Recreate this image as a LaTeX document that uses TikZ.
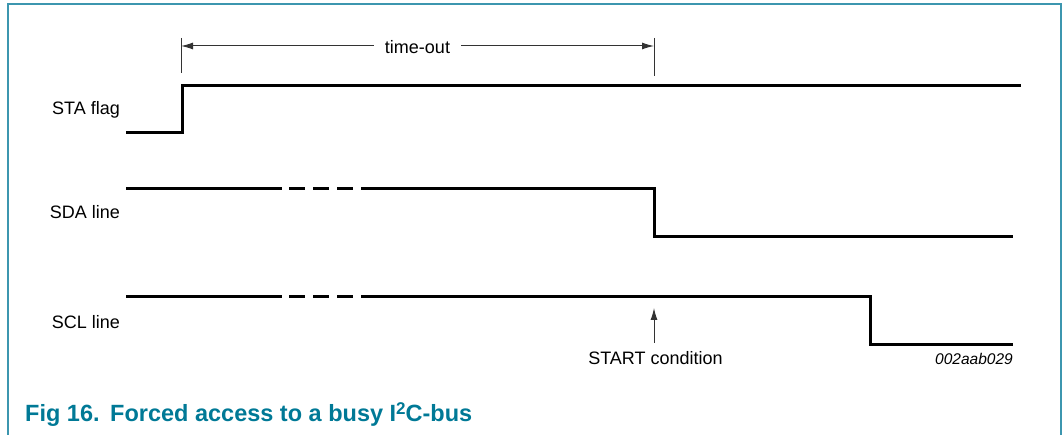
\documentclass[tikz,border=0pt]{standalone}
\usepackage{fontspec}
\setmainfont{Liberation Sans}
\usetikzlibrary{arrows.meta}
\definecolor{nxpteal}{RGB}{0,121,150}
\definecolor{frameteal}{RGB}{60,150,175}
\begin{document}
\begin{tikzpicture}[x=1pt,y=-1pt,
  signal/.style={line width=3pt, line cap=butt, line join=miter},
  guide/.style={line width=1pt, draw=black!80},
  dimarrow/.style={guide, -{Latex[length=12pt,width=7pt]}},
  lbl/.style={font=\fontsize{18}{18}\selectfont, inner sep=0pt},
  frame/.style={draw=frameteal, line width=1.5pt},
  captxt/.style={anchor=base west, inner sep=0pt, text=nxpteal, font=\fontsize{23.5}{23.5}\selectfont\bfseries},
]
\useasboundingbox (0,0) rectangle (1063,435);
% frame
\draw[frame] (8,435) -- (8,4) -- (1061,4) -- (1061,435);

% signal labels
\node[lbl, anchor=base east] (sta) at (120,115) {STA flag};
\node[lbl, anchor=base east] (sda) at (120,219) {SDA line};
\node[lbl, anchor=base east] (scl) at (120,329) {SCL line};

% time-out dimension
\coordinate (tL) at (181,46);
\coordinate (tR) at (654,46);
\draw[guide] (181,38) -- (181,73);
\draw[guide] (654,38) -- (654,76);
\node[lbl, anchor=base, inner xsep=11pt] (to) at (417.5,54) {time-out};
\draw[dimarrow] (to.west |- tL) -- (tL);
\draw[dimarrow] (to.east |- tR) -- (tR);

% STA flag
\draw[signal] (126,133) -- (182,133) -- (182,86) -- (1021,86);

% SDA line
\draw[signal] (126,189) -- (282,189);
\draw[signal] (289,189) -- (305,189);
\draw[signal] (313,189) -- (329,189);
\draw[signal] (337,189) -- (353,189);
\draw[signal] (361,189) -- (654,189) -- (654,237) -- (1013,237);

% SCL line
\draw[signal] (126,297) -- (282,297);
\draw[signal] (289,297) -- (305,297);
\draw[signal] (313,297) -- (329,297);
\draw[signal] (337,297) -- (353,297);
\draw[signal] (361,297) -- (870,297) -- (870,345) -- (1013,345);

% START condition
\coordinate (sTip) at (654,308);
\node[lbl, anchor=base] (start) at (655.5,365) {START condition};
\draw[dimarrow] (654,343) -- (sTip);

% figure id
\node[anchor=base east, inner sep=0pt, font=\fontsize{15.5}{15.5}\selectfont\itshape] (fid) at (1013,365) {002aab029};

% caption
\node[captxt] (capnum) at (25,421) {Fig 16.};
\node[captxt] (captitle) at (110,421)
  {Forced access to a busy I\raisebox{7pt}{\fontsize{17}{17}\selectfont 2}C-bus};
\end{tikzpicture}
\end{document}
